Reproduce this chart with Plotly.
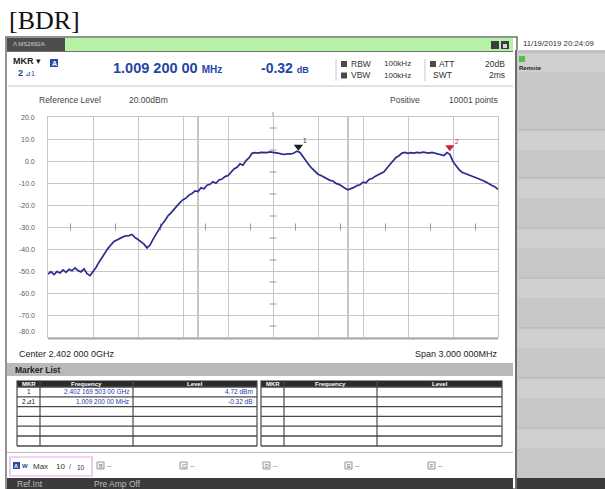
import plotly.graph_objects as go

# ---------------- data ----------------
freq_mhz = [
    2400.50, 2400.52, 2400.54, 2400.56, 2400.58, 2400.60, 2400.62, 2400.64, 2400.66, 2400.68,
    2400.70, 2400.72, 2400.74, 2400.76, 2400.78, 2400.80, 2400.82, 2400.84, 2400.86, 2400.88,
    2400.90, 2400.92, 2400.94, 2400.96, 2400.98, 2401.00, 2401.02, 2401.04, 2401.06, 2401.08,
    2401.10, 2401.12, 2401.14, 2401.16, 2401.18, 2401.20, 2401.22, 2401.24, 2401.26, 2401.28,
    2401.30, 2401.32, 2401.34, 2401.36, 2401.38, 2401.40, 2401.42, 2401.44, 2401.46, 2401.48,
    2401.50, 2401.52, 2401.54, 2401.56, 2401.58, 2401.60, 2401.62, 2401.64, 2401.66, 2401.68,
    2401.70, 2401.72, 2401.74, 2401.76, 2401.78, 2401.80, 2401.82, 2401.84, 2401.86, 2401.88,
    2401.90, 2401.92, 2401.94, 2401.96, 2401.98, 2402.00, 2402.02, 2402.04, 2402.06, 2402.08,
    2402.10, 2402.12, 2402.14, 2402.16, 2402.18, 2402.20, 2402.22, 2402.24, 2402.26, 2402.28,
    2402.30, 2402.32, 2402.34, 2402.36, 2402.38, 2402.40, 2402.42, 2402.44, 2402.46, 2402.48,
    2402.50, 2402.52, 2402.54, 2402.56, 2402.58, 2402.60, 2402.62, 2402.64, 2402.66, 2402.68,
    2402.70, 2402.72, 2402.74, 2402.76, 2402.78, 2402.80, 2402.82, 2402.84, 2402.86, 2402.88,
    2402.90, 2402.92, 2402.94, 2402.96, 2402.98, 2403.00, 2403.02, 2403.04, 2403.06, 2403.08,
    2403.10, 2403.12, 2403.14, 2403.16, 2403.18, 2403.20, 2403.22, 2403.24, 2403.26, 2403.28,
    2403.30, 2403.32, 2403.34, 2403.36, 2403.38, 2403.40, 2403.42, 2403.44, 2403.46, 2403.48,
    2403.50,
]
level_dbm = [
    -51.4, -50.3, -51.6, -50.2, -50.9, -49.5, -50.6, -49.2, -49.9, -48.6,
    -49.8, -50.4, -49.0, -51.2, -52.1, -50.3, -48.4, -46.0, -43.8, -41.6,
    -39.7, -38.1, -36.6, -35.9, -35.0, -34.5, -34.0, -33.9, -33.4, -34.8,
    -35.7, -36.9, -37.8, -39.5, -38.2, -35.6, -33.1, -30.9, -28.8, -27.0,
    -24.9, -23.6, -21.8, -20.4, -18.9, -17.6, -16.9, -15.5, -14.8, -13.6,
    -13.9, -12.2, -12.6, -11.0, -10.6, -9.4, -10.1, -8.6, -8.2, -7.1,
    -6.6, -5.3, -3.6, -2.9, -1.3, -1.9, 0.2, 1.4, 3.5, 3.8,
    3.6, 3.9, 3.7, 3.8, 4.1, 3.9, 4.0, 3.5, 3.1, 3.0,
    3.3, 3.2, 3.6, 4.5, 3.9, 1.9, 0.2, -1.8, -3.4, -4.9,
    -6.0, -6.6, -7.4, -7.9, -8.8, -9.1, -10.2, -10.6, -11.7, -12.4,
    -13.1, -12.6, -12.0, -11.2, -10.8, -9.6, -9.9, -8.4, -8.0, -7.0,
    -6.3, -5.4, -4.9, -3.2, -1.6, -0.2, 1.6, 2.4, 3.6, 3.9,
    3.5, 3.8, 3.6, 3.9, 3.7, 4.0, 3.8, 3.6, 3.9, 3.6,
    3.4, 3.0, 2.5, 3.8, 2.9, -0.3, -2.2, -3.9, -5.1, -5.6,
    -6.3, -6.8, -7.1, -7.9, -8.2, -8.9, -9.6, -10.2, -11.1, -11.8,
    -12.9,
]
marker_ids = ["1", "2"]
marker_freq_mhz = [2402.1695, 2403.1787]
marker_level_dbm = [4.72, 4.40]
marker_colors = ["#1b1b1b", "#d3203a"]
display_line_mhz = [2401.5, 2402.5]
center_mhz = 2402.0
span_mhz = 3.0
ytick_vals = [20, 10, 0, -10, -20, -30, -40, -50, -60, -70, -80]
ytick_text = ["20.0", "10.0", "0.0", "-10.0", "-20.0", "-30.0", "-40.0",
              "-50.0", "-60.0", "-70.0", "-80.0"]
table_rows = [
    ["1", "2.402 169 503 00 GHz", "4.72 dBm"],
    ["2\u22bf1", "1.009 200 00 MHz", "-0.32 dB"],
]

# ---------------- geometry helpers ----------------
W, H = 605, 489
PL, PR, PT, PB = 48, 498, 117, 337
SANS = "Liberation Sans, Arial, sans-serif"
GRID = "#c6c6c6"
TRACE = "#2c2c8e"
BLUE = "#2544a6"


def X(px):
    return (px - PL) / (PR - PL)


def Y(py):
    return (PB - py) / (PB - PT)


shapes = []
anns = []


def R(x0, y0, x1, y1, fill=None, line=None, lw=1, layer="below"):
    shapes.append(dict(type="rect", xref="paper", yref="paper",
                       x0=X(x0), x1=X(x1), y0=Y(y1), y1=Y(y0),
                       fillcolor=fill or "rgba(0,0,0,0)",
                       line=dict(color=line or "rgba(0,0,0,0)", width=lw if line else 0),
                       layer=layer))


def L(x0, y0, x1, y1, color, lw=1, layer="below"):
    shapes.append(dict(type="line", xref="paper", yref="paper",
                       x0=X(x0), x1=X(x1), y0=Y(y0), y1=Y(y1),
                       line=dict(color=color, width=lw), layer=layer))


def T(x, y, s, size=8.5, color="#333333", anchor="left", bold=False, family=SANS):
    if bold:
        s = "<b>" + s + "</b>"
    anns.append(dict(x=X(x), y=Y(y), xref="paper", yref="paper", text=s,
                     showarrow=False, xanchor=anchor, yanchor="middle",
                     font=dict(size=size, color=color, family=family)))


# ---------------- chrome ----------------
T(7, 20, "[BDR]", size=26, color="#111111", family="Liberation Serif, Times New Roman, serif")
T(521, 43.5, "11/19/2019 20:24:09", size=7.8, color="#333333")

# main frame
R(6, 37, 517, 489, fill="#ffffff", line="#6f6f6f", lw=1.5)
R(7, 38, 65, 51, fill="#4d4d4d")
R(65, 38, 513, 51, fill="#b6f2a6")
L(7, 51.5, 513, 51.5, "#707070", 1)
R(491, 41, 499, 49, fill="#3c3c3c")
R(501, 41, 509, 49, fill="#3c3c3c")
R(503, 44, 507, 48, fill="#d8d8d8")
T(11, 44.5, "\u039b MS2692A", size=6, color="#cfcfcf")

# right panel
R(517, 50, 605, 489, fill="#c7c7c7")
for yb in [52, 130, 178, 228, 278, 328, 378, 428]:
    R(518, yb, 605, yb + 20, fill="#cfcfcf")
    L(518, yb, 605, yb, "#b4b4b4", 1)
L(516, 50, 516, 489, "#6e6e6e", 2)
R(517, 478, 605, 489, fill="#3a3a3a")
R(519, 56, 525, 62, fill="#4cc44c")
T(517, 68, "Remote", size=6, color="#222222", bold=True)

# header
T(11, 61, "<b>MKR</b> \u25be", size=9, color="#222222")
T(16, 73, "<b>2</b><span style='font-size:7px'> \u22bf1</span>", size=9, color=BLUE)
R(50, 59, 58, 67, fill="#2a4aa8")
T(54, 63, "A", size=7, color="#ffffff", anchor="center", bold=True)
T(111, 68, "<b>1.009 200 00 <span style='font-size:10px'>MHz</span></b>", size=14.5, color=BLUE)
T(259, 68, "<b>-0.32 <span style='font-size:9px'>dB</span></b>", size=14, color=BLUE)
L(336, 59, 336, 81, "#c8c8c8")
L(425, 59, 425, 81, "#c8c8c8")
for (ix, iy) in [(341, 64), (341, 75.5), (430, 64)]:
    R(ix, iy - 3, ix + 6, iy + 3, fill="#4a4a4a")
T(349, 64, "RBW", size=8.5)
T(349, 75.5, "VBW", size=8.5)
T(413, 64, "100kHz", size=8, anchor="right")
T(413, 75.5, "100kHz", size=8, anchor="right")
T(437, 64, "ATT", size=8.5)
T(507, 64, "20dB", size=8.5, anchor="right")
T(454, 75.5, "SWT", size=8.5, anchor="right")
T(507, 75.5, "2ms", size=8.5, anchor="right")
L(8, 86, 513, 86, "#c4c4c4", 1)

T(37, 100, "Reference Level", size=8.5, color="#444444")
T(127, 100, "20.00dBm", size=8.5, color="#444444")
T(388, 100, "Positive", size=8.5, color="#444444")
T(500, 100, "10001 points", size=8.5, color="#444444", anchor="right")

# below the plot
L(PL, 338.5, PR, 338.5, "#a8a8a8", 2)
T(17, 354, "Center %.3f 000 0GHz" % (center_mhz / 1000), size=9, color="#222222")
T(500, 354, "Span %.3f 000MHz" % span_mhz, size=9, color="#222222", anchor="right")

# marker list
R(7, 363, 513, 376, fill="#b9b9b9")
T(13, 369.5, "Marker List", size=8.5, color="#222222", bold=True)

row_y = [387, 396.8, 406.6, 416.4, 426.2, 436, 446]
for cols in ([17, 40, 133, 257], [261, 284, 377, 502]):
    R(cols[0], 380.5, cols[3], 387, fill="#2b2b2b", layer="above")
    for yb in row_y:
        L(cols[0], yb, cols[3], yb, "#4a4a4a", 1.3, layer="above")
    for xc in cols:
        L(xc, 380.5, xc, 446, "#4a4a4a", 1.2, layer="above")
    T((cols[0] + cols[1]) / 2, 383.8, "MKR", size=6, color="#ffffff", anchor="center", bold=True)
    T((cols[1] + cols[2]) / 2, 383.8, "Frequency", size=6, color="#ffffff", anchor="center", bold=True)
    T((cols[2] + cols[3]) / 2, 383.8, "Level", size=6, color="#ffffff", anchor="center", bold=True)

for i, row in enumerate(table_rows):
    yc = (row_y[i] + row_y[i + 1]) / 2
    T(28.5, yc, row[0], size=6.5, color="#222222", anchor="center")
    T(131, yc, row[1], size=6.5, color="#2838b0", anchor="right")
    T(255, yc, row[2], size=6.5, color="#2838b0", anchor="right")

# trace bar
L(7, 452.5, 513, 452.5, "#bdbdbd", 1)
R(10, 457, 92, 476, line="#e9a5ea", lw=1.2, layer="above")
R(13, 462, 20, 469, fill="#2a4aa8", layer="above")
T(16.5, 465.5, "A", size=5.5, color="#ffffff", anchor="center", bold=True)
T(20, 465.5, "W", size=6, color=BLUE, bold=True)
T(31, 466, "Max", size=8, color="#333333")
T(54, 466, "10", size=8, color="#333333")
T(67, 466.5, "/", size=7, color="#333333")
T(75, 467, "10", size=6.5, color="#333333")
for letter, lx in [("B", 97), ("C", 180), ("D", 263), ("E", 345), ("F", 428)]:
    R(lx, 462, lx + 7, 469, fill="#f4f4f4", line="#9a9a9a", lw=1, layer="above")
    T(lx + 3.5, 465.5, letter, size=5.5, color="#777777", anchor="center")
    T(lx + 8, 465.5, "\u2013", size=8, color="#888888")

R(7, 478, 513, 489, fill="#3b3b3b")
T(15, 483.5, "Ref.Int", size=8.5, color="#bdbdbd")
T(92, 483.5, "Pre Amp Off", size=8.5, color="#bdbdbd")

# centre tick above plot
L(PL + (PR - PL) / 2, 112, PL + (PR - PL) / 2, 117, "#9a9a9a", 1)

# display lines
for v in display_line_mhz:
    shapes.append(dict(type="line", xref="x", yref="paper", x0=v, x1=v, y0=0, y1=1,
                       line=dict(color="#8e8e8e", width=1), layer="below"))

# y tick labels
for v, t in zip(ytick_vals, ytick_text):
    anns.append(dict(x=X(37), y=v, xref="paper", yref="y", text=t, showarrow=False,
                     xanchor="right", yanchor="middle", yshift=6 if v == -80 else 0,
                     font=dict(size=7, color="#5a5a5a", family=SANS)))

# ---------------- figure ----------------
fig = go.Figure()

x0 = center_mhz - span_mhz / 2
xdiv = [x0 + span_mhz / 10 * (k + 0.5) for k in range(10)]
ydiv = [-80 + 10 * (k + 0.5) for k in range(10)]
fig.add_trace(go.Scatter(x=xdiv, y=[-30] * 10, mode="markers", hoverinfo="skip",
                         marker=dict(symbol="line-ns", size=5, line=dict(color="#9a9a9a", width=1))))
fig.add_trace(go.Scatter(x=[center_mhz] * 10, y=ydiv, mode="markers", hoverinfo="skip",
                         marker=dict(symbol="line-ew", size=5, line=dict(color="#9a9a9a", width=1))))

fig.add_trace(go.Scatter(x=freq_mhz, y=level_dbm, mode="lines", hoverinfo="skip",
                         line=dict(color=TRACE, width=1.7)))

fig.add_trace(go.Scatter(x=marker_freq_mhz, y=[v + 1.8 for v in marker_level_dbm],
                         mode="markers", hoverinfo="skip",
                         marker=dict(symbol="triangle-down", size=8, color=marker_colors,
                                     line=dict(width=0))))
for mid, mf, ml, mc in zip(marker_ids, marker_freq_mhz, marker_level_dbm, marker_colors):
    anns.append(dict(x=mf, y=ml, xref="x", yref="y", text=mid, showarrow=False,
                     xshift=7, yshift=10, font=dict(size=6.5, color=mc, family=SANS)))

fig.update_layout(
    width=W, height=H, autosize=False,
    margin=dict(l=PL, r=W - PR, t=PT, b=H - PB, pad=0),
    paper_bgcolor="#ffffff", plot_bgcolor="rgba(0,0,0,0)",
    showlegend=False,
    xaxis=dict(range=[x0, x0 + span_mhz], tick0=x0, dtick=span_mhz / 10,
               showgrid=True, gridcolor=GRID, gridwidth=1, zeroline=False,
               showticklabels=False, ticks="", showline=True, mirror=True,
               linecolor=GRID, linewidth=1, fixedrange=True),
    yaxis=dict(range=[-80, 20], tickvals=ytick_vals, showgrid=True, gridcolor=GRID,
               gridwidth=1, zeroline=False, showticklabels=False, ticks="",
               showline=True, mirror=True, linecolor=GRID, linewidth=1, fixedrange=True),
    shapes=shapes, annotations=anns,
)

fig.write_html("out.html", config={"displayModeBar": False},
               post_script="document.body.style.margin='0px';document.body.style.overflow='hidden';")
